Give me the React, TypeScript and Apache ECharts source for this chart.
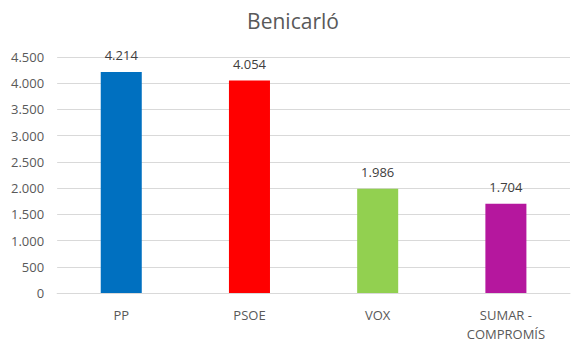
import React, { useEffect, useRef } from "react";
import * as echarts from "echarts";

const categories = ["PP", "PSOE", "VOX", "SUMAR -\nCOMPROMÍS"];
const values = [4214, 4054, 1986, 1704];
const colors = ["#0070C0", "#FF0000", "#92D050", "#B5179E"];
const title = "Benicarló";

const fmt = (v: number) => {
  const s = Math.round(v).toString();
  return s.replace(/\B(?=(\d{3})+(?!\d))/g, ".");
};

export default function App() {
  const ref = useRef<HTMLDivElement>(null);
  useEffect(() => {
    if (!ref.current) return;
    const chart = echarts.init(ref.current, undefined, { renderer: "svg" });
    const font = "'Open Sans', 'Noto Sans', sans-serif";
    chart.setOption({
      animation: false,
      title: {
        text: title,
        left: "center",
        top: 0,
        padding: [2, 5, 5, 5],
        textStyle: { fontFamily: font, fontSize: 21, fontWeight: "normal", color: "#595959" },
      },
      grid: { left: 44, right: 8, top: 49, bottom: 42 },
      xAxis: {
        type: "category",
        data: categories,
        axisLine: { lineStyle: { color: "#D9D9D9" } },
        axisTick: { show: false },
        axisLabel: {
          color: "#595959",
          fontFamily: font,
          fontSize: 13,
          margin: 12,
          lineHeight: 19,
        },
      },
      yAxis: {
        type: "value",
        min: 0,
        max: 4500,
        interval: 500,
        axisLine: { show: false },
        axisTick: { show: false },
        splitLine: { lineStyle: { color: "#D9D9D9" } },
        axisLabel: {
          color: "#595959",
          fontFamily: font,
          fontSize: 13,
          margin: 13,
          formatter: (v: number) => fmt(v),
        },
      },
      series: [
        {
          type: "bar",
          barWidth: "32%",
          data: values.map((v, i) => ({ value: v, itemStyle: { color: colors[i] } })),
          label: {
            show: true,
            position: "top",
            distance: 10,
            color: "#404040",
            fontFamily: font,
            fontSize: 13,
            formatter: (p: any) => fmt(p.value),
          },
        },
      ],
    });
    return () => chart.dispose();
  }, []);
  return <div ref={ref} style={{ width: 570, height: 335 }} />;
}
